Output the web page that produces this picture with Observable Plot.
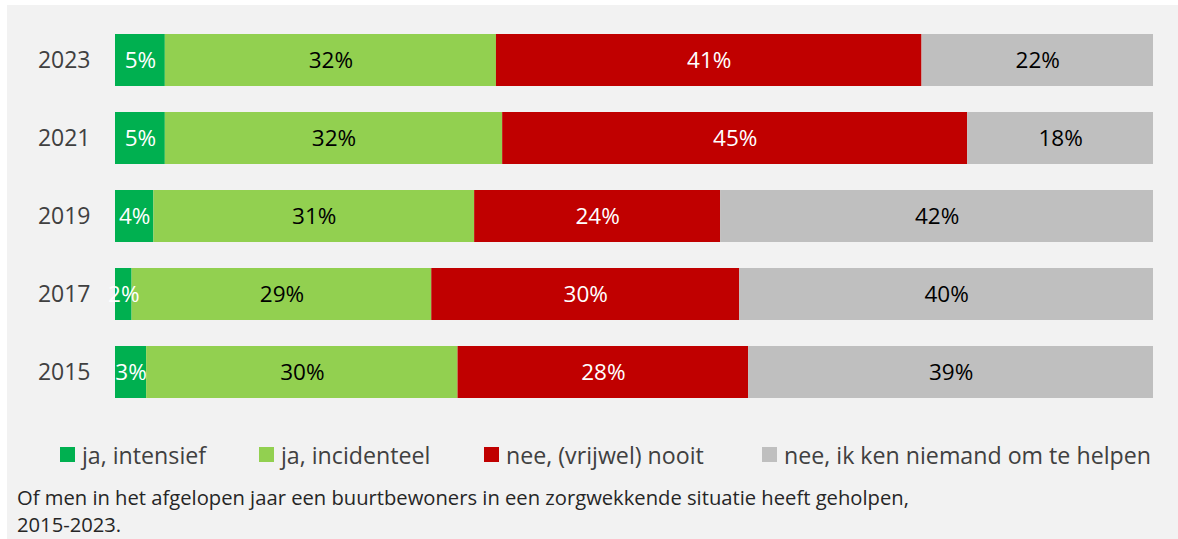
<!DOCTYPE html>
<html><head><meta charset="utf-8">
<script src="https://cdn.jsdelivr.net/npm/d3@7"></script>
<script src="https://cdn.jsdelivr.net/npm/@observablehq/plot@0.6"></script>
<style>
html,body{margin:0;padding:0;background:#fff;overflow:hidden;}
#wrap{position:absolute;left:7px;top:5px;width:1171px;height:534px;background:#f2f2f2;font-family:"Open Sans",sans-serif;}
#chart{position:absolute;left:0;top:0;}
.leg{position:absolute;top:435px;height:29px;font-size:23.2px;color:#404040;white-space:nowrap;display:flex;align-items:center;}
.leg span.sw{display:inline-block;width:15px;height:15px;margin-right:7px;}
.cap{position:absolute;left:10px;font-size:20.2px;line-height:27.5px;height:27.5px;color:#262626;white-space:nowrap;}
</style></head>
<body>
<div id="wrap"><div id="chart"></div><div id="legend"></div>
<div class="cap" style="top:478.5px">Of men in het afgelopen jaar een buurtbewoners in een zorgwekkende situatie heeft geholpen,</div>
<div class="cap" style="top:506px">2015-2023.</div></div>
<script>
const years = ["2023","2021","2019","2017","2015"];
const categories = ["ja, intensief","ja, incidenteel","nee, (vrijwel) nooit","nee, ik ken niemand om te helpen"];
const colors = ["#00b050","#92d050","#c00000","#bfbfbf"];
const labelColors = ["white","black","white","black"];
const intensief   = [4.8, 4.8, 3.7, 1.6, 3.0];
const incidenteel = [31.9, 32.5, 30.9, 28.9, 30.0];
const nooit       = [41.0, 44.8, 23.7, 29.7, 28.0];
const niemand     = [22.3, 17.9, 41.7, 39.9, 39.0];
const labIntensief   = ["5%","5%","4%","2%","3%"];
const labIncidenteel = ["32%","32%","31%","29%","30%"];
const labNooit       = ["41%","45%","24%","30%","28%"];
const labNiemand     = ["22%","18%","42%","40%","39%"];

const series = [intensief, incidenteel, nooit, niemand];
const labels = [labIntensief, labIncidenteel, labNooit, labNiemand];
const data = [];
series.forEach((vals, ci) => vals.forEach((v, yi) => data.push({
  year: years[yi], category: categories[ci], value: v, label: labels[ci][yi],
  fill: colors[ci], textFill: labelColors[ci]
})));

const chart = Plot.plot({
  width: 1171, height: 430,
  marginLeft: 108, marginRight: 25, marginTop: 3, marginBottom: 11,
  style: {background: "transparent", fontFamily: "'Open Sans', sans-serif", fontSize: "23px", color: "#404040"},
  x: {axis: null, domain: [0, 1]},
  y: {domain: years, padding: 0.333, label: null, tickSize: 0, tickPadding: 25},
  marks: [
    Plot.barX(data, Plot.stackX({x: "value", y: "year", fill: "fill", offset: "normalize", order: null})),
    Plot.text(data, Plot.stackX({x: "value", y: "year", text: "label", fill: "textFill", offset: "normalize", order: null, fontSize: 22.5}))
  ]
});
document.getElementById("chart").appendChild(chart);

const legLefts = [53, 252, 477, 755];
const leg = document.getElementById("legend");
categories.forEach((c, i) => {
  const d = document.createElement("div");
  d.className = "leg";
  d.style.left = legLefts[i] + "px";
  d.innerHTML = `<span class="sw" style="background:${colors[i]}"></span>${c}`;
  leg.appendChild(d);
});
</script>
</body></html>
